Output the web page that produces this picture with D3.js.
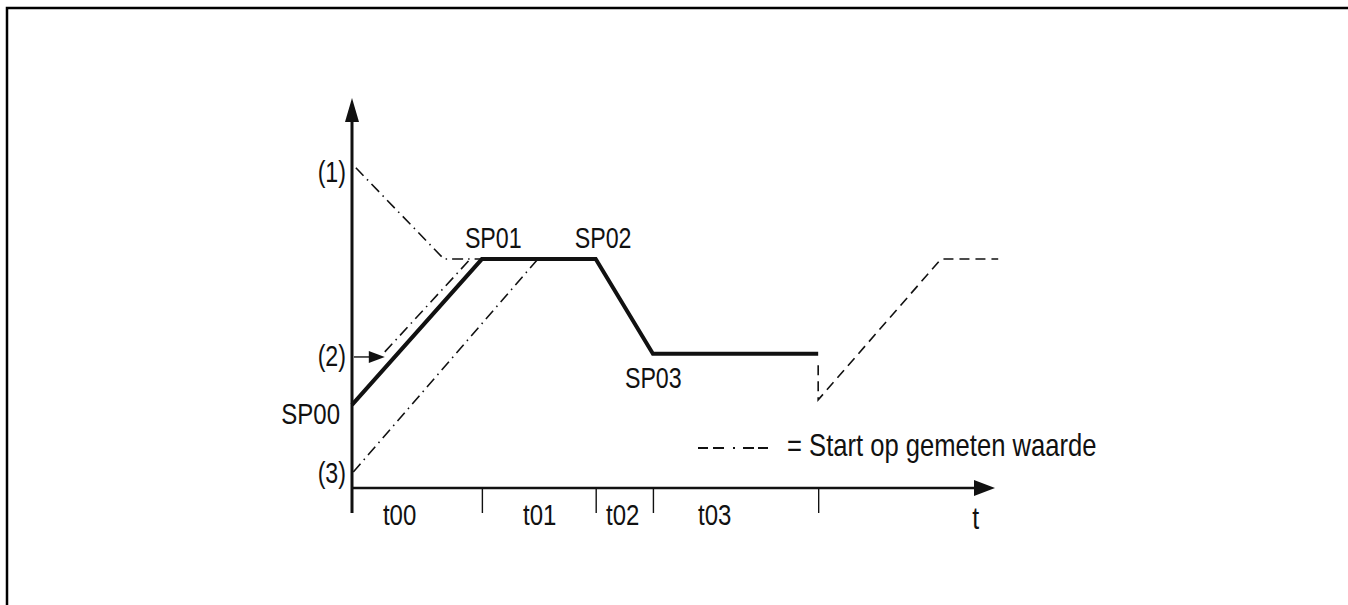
<!DOCTYPE html>
<html>
<head>
<meta charset="utf-8">
<script src="https://cdn.jsdelivr.net/npm/d3@7"></script>
<style>
  html, body { margin: 0; padding: 0; background: #fff; overflow: hidden; }
  svg { display: block; }
  svg text { font-family: "Liberation Sans", Arial, sans-serif; font-size: 29px; fill: #111; }
</style>
</head>
<body>
<svg id="chart" width="1348" height="605"></svg>
<script>
// ---- data (time units 0..100, value units 0..100) ----
const profileTimes  = [0, 20.2, 37.9, 46.8, 72.5];
const profileValues = [21.3, 58.7, 58.7, 34.4, 34.4];
const profileLabels = ["SP00", "SP01", "SP02", "SP03"];

const restartTimes  = [72.5, 72.5, 91.6, 100.5];
const restartValues = [31.5, 22.6, 58.7, 58.7];

const start1Times  = [0.6, 14.3, 20.2];
const start1Values = [82.1, 58.7, 58.7];
const start2Times  = [5.1, 18.4];
const start2Values = [34.9, 58.7];
const start3Times  = [0.2, 28.9];
const start3Values = [4.1, 58.7];

const arrow2Times  = [0.3, 5.1];
const arrow2Value  = 33.6;

const startLabels = ["(1)", "(2)", "(3)"];
const startLabelValues = [80.8, 33.6, 3.6];

const segmentTicks  = [20.2, 37.9, 46.8, 72.5];
const segmentLabels = ["t00", "t01", "t02", "t03", "t"];
const segmentLabelTimes = [7.4, 29.2, 42.1, 56.4, 97.0];

const legendText = "= Start op gemeten waarde";

// ---- scales ----
const svg = d3.select("#chart");
const x = d3.scaleLinear().domain([0, 100]).range([352, 995]);
const y = d3.scaleLinear().domain([0, 100]).range([488, 98]);

const SX = 0.8; // narrow type
function label(px, py, txt, anchor, size) {
  const t = svg.append("text")
    .attr("transform", `translate(${px},${py}) scale(${SX},1)`)
    .attr("text-anchor", anchor || "start")
    .text(txt);
  if (size) t.style("font-size", size + "px");
  return t;
}

// frame
svg.append("path")
  .attr("d", "M7,610V8H1352")
  .attr("fill", "none").attr("stroke", "#000").attr("stroke-width", 2.5);

const line = d3.line().x(d => x(d[0])).y(d => y(d[1]));
const zip = (a, b) => a.map((v, i) => [v, b[i]]);

// x axis with segment ticks
const xAxis = d3.axisBottom(x).tickValues(segmentTicks).tickSize(25).tickFormat("");
const gx = svg.append("g").attr("transform", `translate(0,${y(0)})`).call(xAxis);
gx.select(".domain").remove();
gx.selectAll(".tick line").attr("stroke", "#111").attr("stroke-width", 1.4);

svg.append("line")
  .attr("x1", x(0)).attr("x2", x(100) - 18)
  .attr("y1", y(0)).attr("y2", y(0))
  .attr("stroke", "#111").attr("stroke-width", 2.6);
svg.append("path")
  .attr("d", `M${x(100)},${y(0)}L${x(100) - 21},${y(0) - 8}L${x(100) - 21},${y(0) + 8}Z`)
  .attr("fill", "#111");

// y axis
svg.append("line")
  .attr("x1", x(0)).attr("x2", x(0))
  .attr("y1", y(0) + 25).attr("y2", y(100) + 20)
  .attr("stroke", "#111").attr("stroke-width", 3);
svg.append("path")
  .attr("d", `M${x(0)},${y(100)}L${x(0) - 7},${y(100) + 24}L${x(0) + 7},${y(100) + 24}Z`)
  .attr("fill", "#111");

// dash-dot start lines
const dashDot = "11,5,1.5,5";
[[start1Times, start1Values], [start2Times, start2Values], [start3Times, start3Values]].forEach(([t, v]) => {
  svg.append("path").attr("d", line(zip(t, v)))
    .attr("fill", "none").attr("stroke", "#111").attr("stroke-width", 1.6)
    .attr("stroke-dasharray", dashDot);
});

// arrow at (2)
svg.append("line")
  .attr("x1", x(arrow2Times[0])).attr("x2", x(arrow2Times[1]) - 12)
  .attr("y1", y(arrow2Value)).attr("y2", y(arrow2Value))
  .attr("stroke", "#111").attr("stroke-width", 1.4);
svg.append("path")
  .attr("d", `M${x(arrow2Times[1])},${y(arrow2Value)}L${x(arrow2Times[1]) - 16},${y(arrow2Value) - 6}L${x(arrow2Times[1]) - 16},${y(arrow2Value) + 6}Z`)
  .attr("fill", "#111");

// restart dashed
svg.append("path").attr("d", line(zip(restartTimes, restartValues)))
  .attr("fill", "none").attr("stroke", "#111").attr("stroke-width", 1.6)
  .attr("stroke-dasharray", "10,6");

// main profile
svg.append("path").attr("d", line(zip(profileTimes, profileValues)))
  .attr("fill", "none").attr("stroke", "#111").attr("stroke-width", 4)
  .attr("stroke-linejoin", "miter");

// profile labels
const spPos = [
  { t: profileTimes[0], v: profileValues[0], dx: -12, dy: 19, anchor: "end" },
  { t: profileTimes[1], v: profileValues[1], dx: -17, dy: -11, anchor: "start" },
  { t: profileTimes[2], v: profileValues[2], dx: -21, dy: -11, anchor: "start" },
  { t: profileTimes[3], v: profileValues[3], dx: -28, dy: 34, anchor: "start" }
];
profileLabels.forEach((lab, i) => {
  const p = spPos[i];
  label(x(p.t) + p.dx, y(p.v) + p.dy, lab, p.anchor, i === 0 ? 30 : 29);
});

// start labels
startLabels.forEach((lab, i) => {
  label(x(0) - 6, y(startLabelValues[i]) + 9, lab, "end");
});

// segment labels
segmentLabels.forEach((lab, i) => {
  label(x(segmentLabelTimes[i]), y(0) + (lab === "t" ? 41 : 37), lab, "middle", lab === "t" ? 31 : 30);
});

// legend
svg.append("line").attr("x1", 698).attr("x2", 768).attr("y1", 448).attr("y2", 448)
  .attr("stroke", "#111").attr("stroke-width", 2)
  .attr("stroke-dasharray", "10,5,11,9,2,8,11,4,10");
label(787, 456, legendText, "start", 32);
</script>
</body>
</html>
